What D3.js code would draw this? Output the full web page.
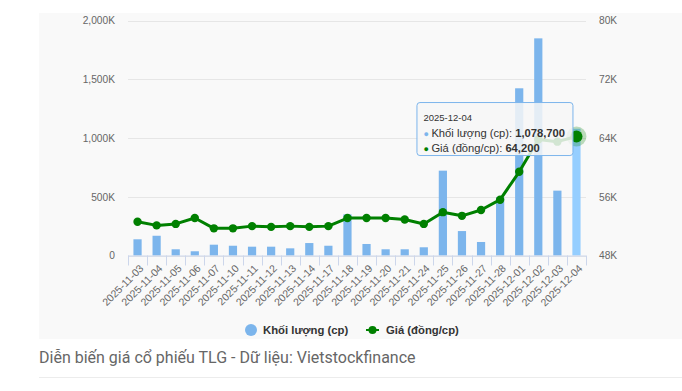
<!DOCTYPE html>
<html>
<head>
<meta charset="utf-8">
<script src="https://cdn.jsdelivr.net/npm/d3@7"></script>
<style>
  html, body { margin: 0; padding: 0; background: #fff; }
  svg { display: block; }
</style>
</head>
<body>
<svg id="chart" width="682" height="391"></svg>
<script>
const dates = ["2025-11-03","2025-11-04","2025-11-05","2025-11-06","2025-11-07","2025-11-10","2025-11-11","2025-11-12","2025-11-13","2025-11-14","2025-11-17","2025-11-18","2025-11-19","2025-11-20","2025-11-21","2025-11-24","2025-11-25","2025-11-26","2025-11-27","2025-11-28","2025-12-01","2025-12-02","2025-12-03","2025-12-04"];
const volumes = [138000,168000,53000,36000,92000,83000,75000,75000,61000,106000,83000,350000,98000,53000,53000,70000,722000,208000,115000,495000,1423000,1848000,552000,1078700];
const prices = [52600,52100,52300,53100,51700,51700,52000,51900,52000,51900,52000,53100,53100,53100,52900,52300,53900,53400,54200,55600,59400,63800,63500,64200];
const volumeTicks = [0,500000,1000000,1500000,2000000];
const priceTicks = [48000,56000,64000,72000,80000];
const seriesNames = ["Khối lượng (cp)", "Giá (đồng/cp)"];
const caption = "Diễn biến giá cổ phiếu TLG - Dữ liệu: Vietstockfinance";
const hoverIndex = 23;

const FONT = '"Liberation Sans", Arial, Helvetica, sans-serif';
const barColor = "#7cb5ec", barHover = "#95ceff", lineColor = "#008000";

const svg = d3.select("#chart");
const W = 682, H = 391;
const plot = {left: 128, right: 586, top: 20.5, bottom: 255.5};

// background panel
svg.append("rect").attr("x", 39).attr("y", 13).attr("width", W - 39).attr("height", 326).attr("fill", "#f9f9f9");

const x = d3.scaleBand().domain(dates).range([plot.left, plot.right]).paddingInner(0).paddingOuter(0);
const yV = d3.scaleLinear().domain([0, 2000000]).range([plot.bottom, plot.top]);
const yP = d3.scaleLinear().domain([48000, 80000]).range([plot.bottom, plot.top]);

const fmtK = v => v === 0 ? "0" : d3.format(",")(v / 1000) + "K";

// gridlines
svg.append("g").selectAll("line").data(volumeTicks).join("line")
  .attr("x1", plot.left).attr("x2", plot.right)
  .attr("y1", d => Math.round(yV(d)) + 0.5).attr("y2", d => Math.round(yV(d)) + 0.5)
  .attr("stroke", "#e6e6e6").attr("stroke-width", 1);

// left axis
const gl = svg.append("g").attr("transform", `translate(${plot.left},0)`)
  .call(d3.axisLeft(yV).tickValues(volumeTicks).tickFormat(fmtK).tickSize(0).tickPadding(13));
gl.select(".domain").remove();
gl.selectAll("text").attr("font-family", FONT).attr("font-size", 10.2).attr("fill", "#666");

// right axis
const gr = svg.append("g").attr("transform", `translate(${plot.right},0)`)
  .call(d3.axisRight(yP).tickValues(priceTicks).tickFormat(fmtK).tickSize(0).tickPadding(13));
gr.select(".domain").remove();
gr.selectAll("text").attr("font-family", FONT).attr("font-size", 10.2).attr("fill", "#666");

// bars
const barW = 8.2;
svg.append("g").selectAll("rect").data(dates).join("rect")
  .attr("x", d => x(d) + x.bandwidth() / 2 - barW / 2)
  .attr("width", barW)
  .attr("y", (d, i) => yV(volumes[i]))
  .attr("height", (d, i) => yV(0) - yV(volumes[i]))
  .attr("fill", (d, i) => i === hoverIndex ? barHover : barColor);

// x axis line and ticks
const boundaries = dates.map(d => x(d)).concat([plot.right]);
svg.append("line").attr("x1", plot.left).attr("x2", plot.right)
  .attr("y1", plot.bottom + 0.5).attr("y2", plot.bottom + 0.5).attr("stroke", "#ccd6eb");
svg.append("g").selectAll("line").data(boundaries).join("line")
  .attr("x1", d => Math.round(d) + 0.5).attr("x2", d => Math.round(d) + 0.5)
  .attr("y1", plot.bottom).attr("y2", plot.bottom + 10).attr("stroke", "#ccd6eb");

// x labels
svg.append("g").selectAll("text").data(dates).join("text")
  .attr("transform", d => `translate(${x(d) + x.bandwidth() / 2 + 4},${plot.bottom + 11}) rotate(-45)`)
  .attr("text-anchor", "end").attr("dy", "0.35em")
  .attr("font-family", FONT).attr("font-size", 10.5).attr("fill", "#666")
  .text(d => d);

// price line
const line = d3.line().x((d, i) => x(dates[i]) + x.bandwidth() / 2).y(d => yP(d));
svg.append("path").datum(prices).attr("d", line)
  .attr("fill", "none").attr("stroke", lineColor).attr("stroke-width", 3)
  .attr("stroke-linejoin", "round").attr("stroke-linecap", "round");

// halo + markers
const hx = x(dates[hoverIndex]) + x.bandwidth() / 2, hy = yP(prices[hoverIndex]);
svg.append("circle").attr("cx", hx).attr("cy", hy).attr("r", 10).attr("fill", lineColor).attr("fill-opacity", 0.25);
svg.append("g").selectAll("circle").data(prices).join("circle")
  .attr("cx", (d, i) => x(dates[i]) + x.bandwidth() / 2)
  .attr("cy", d => yP(d))
  .attr("r", (d, i) => i === hoverIndex ? 6 : 4.2)
  .attr("fill", lineColor);

// tooltip
const tipW = 156, tipH = 53;
const tx = hx - 4 - tipW, ty = hy - 34.5;
const tip = svg.append("g").attr("transform", `translate(${tx},${ty})`);
tip.append("rect").attr("x", 0.5).attr("y", 0.5).attr("width", tipW).attr("height", tipH)
  .attr("rx", 3).attr("fill", "#f7f7f7").attr("fill-opacity", 0.85)
  .attr("stroke", barColor).attr("stroke-width", 1);
tip.append("text").attr("x", 7).attr("y", 19).attr("font-family", FONT).attr("font-size", 9.5).attr("fill", "#333")
  .text(dates[hoverIndex]);
const rows = [
  {c: barColor, n: seriesNames[0], v: d3.format(",")(volumes[hoverIndex])},
  {c: lineColor, n: seriesNames[1], v: d3.format(",")(prices[hoverIndex])}
];
rows.forEach((r, k) => {
  const t = tip.append("text").attr("x", 7).attr("y", 34.5 + k * 15)
    .attr("font-family", FONT).attr("font-size", 11.2).attr("fill", "#333");
  t.append("tspan").attr("fill", r.c).attr("font-size", 9).text("● ");
  t.append("tspan").text(r.n + ": ");
  t.append("tspan").attr("font-weight", "bold").text(r.v);
});

// legend
const lg = svg.append("g");
lg.append("circle").attr("cx", 251).attr("cy", 330).attr("r", 6).attr("fill", barColor);
lg.append("text").attr("x", 263).attr("y", 334).attr("font-family", FONT).attr("font-size", 11.3)
  .attr("font-weight", "bold").attr("fill", "#333").text(seriesNames[0]);
lg.append("line").attr("x1", 366).attr("x2", 379).attr("y1", 330).attr("y2", 330).attr("stroke", lineColor).attr("stroke-width", 2);
lg.append("circle").attr("cx", 372.5).attr("cy", 330).attr("r", 4).attr("fill", lineColor);
lg.append("text").attr("x", 386).attr("y", 334).attr("font-family", FONT).attr("font-size", 11.3)
  .attr("font-weight", "bold").attr("fill", "#333").text(seriesNames[1]);

// caption and rule
svg.append("text").attr("x", 39).attr("y", 363).attr("font-family", "Roboto, sans-serif").attr("font-size", 16)
  .attr("fill", "#666").text(caption);
svg.append("line").attr("x1", 39).attr("x2", W).attr("y1", 377.5).attr("y2", 377.5).attr("stroke", "#ececec");
</script>
</body>
</html>
